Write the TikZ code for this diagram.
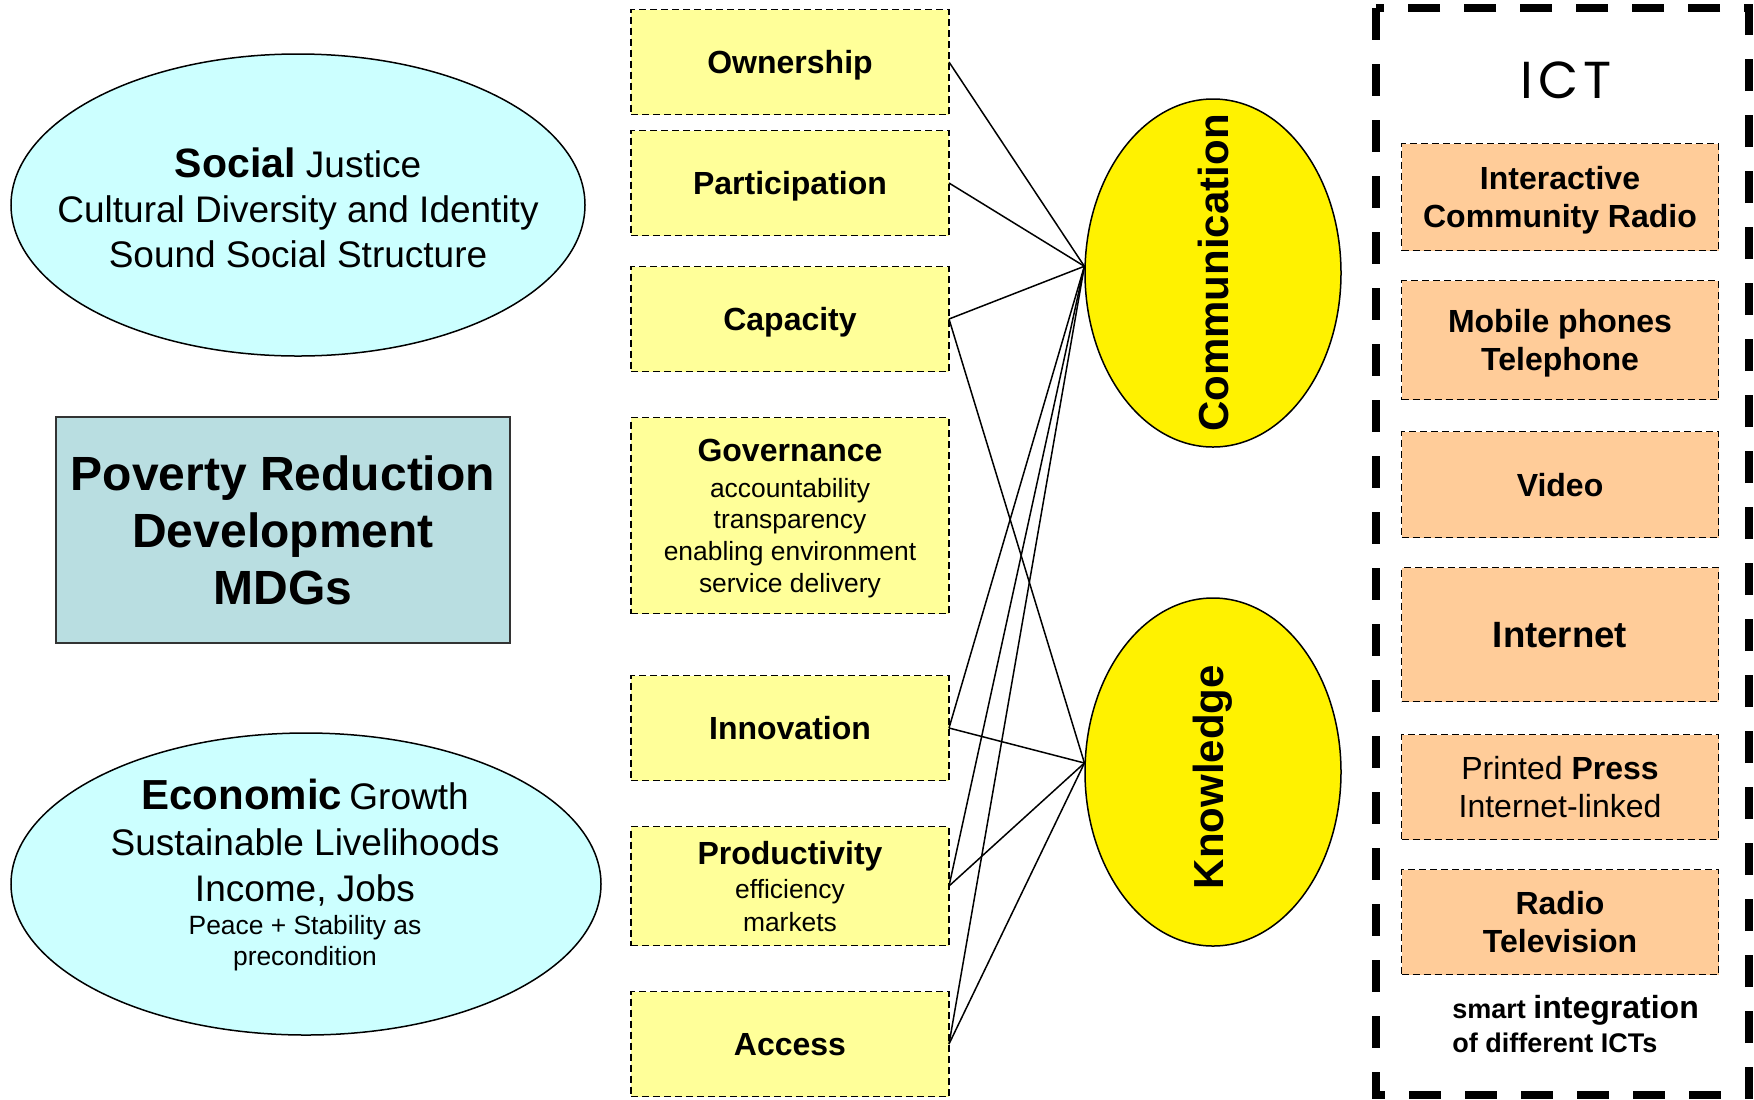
\documentclass[tikz,border=0pt]{standalone}
\usepackage{fontspec}
\setmainfont{Liberation Sans}
\newfontfamily\ictfont{Poppins}[LetterSpace=9]
\usepackage{tikz}
\usetikzlibrary{positioning, shapes.geometric}

\definecolor{goalcyan}{RGB}{204,255,255}
\definecolor{povertyteal}{RGB}{185,222,225}
\definecolor{factoryellow}{RGB}{255,255,153}
\definecolor{mediaorange}{RGB}{255,204,153}

\begin{document}
\begin{tikzpicture}[
        x=0.5pt, y=-0.5pt,
        factor/.style={draw, dash pattern=on 3.5pt off 2pt, line width=0.75pt, fill=factoryellow,
            minimum width=159pt, minimum height=52.5pt, inner sep=0pt, outer sep=0pt, align=center,
            text depth=0pt, font=\fontsize{16}{19}\selectfont\bfseries},
        media/.style={factor, fill=mediaorange, minimum width=158.5pt},
        goal/.style={draw, ellipse, line width=0.75pt, fill=goalcyan, minimum height=151pt},
        goaltext/.style={align=center, inner sep=0pt, font=\fontsize{18.5}{22.5}\selectfont},
        hub/.style={draw, ellipse, line width=0.75pt, fill=yellow, minimum width=128pt, minimum height=174pt},
        hublabel/.style={rotate=90, inner sep=0pt, font=\fontsize{21}{25}\selectfont\bfseries},
        link/.style={line width=0.75pt}
        ]
        \useasboundingbox (0,0) rectangle (1754,1099);

        % Goals on the left
        \node[goal, minimum width=287pt] (social) at (298,205) {};
        \node[goaltext] (socialtext) at (298,208)
            {{\fontsize{20.5}{22.5}\selectfont\bfseries Social} Justice\\ Cultural Diversity and Identity\\ Sound Social Structure};
        \node[draw=black!80, line width=0.75pt, fill=povertyteal, minimum width=227pt, minimum height=113pt,
            align=center, font=\fontsize{24}{28.5}\selectfont\bfseries] (poverty) at (283,530)
            {Poverty Reduction\\ Development\\ MDGs};
        \node[goal, minimum width=295pt] (economic) at (306,884) {};
        \node[goaltext, font=\fontsize{13.2}{15.5}\selectfont] (economictext) at (305,875)
            {{\fontsize{21}{23}\selectfont\bfseries Economic} {\fontsize{18.5}{23}\selectfont Growth}\\[7.5pt]
             {\fontsize{18.5}{23}\selectfont Sustainable Livelihoods}\\[7.5pt]
             {\fontsize{18.5}{23}\selectfont Income, Jobs}\\[1.3pt]
             Peace + Stability as\\ precondition};

        % Factors
        \node[factor] (own) at (790,62) {Ownership};
        \node[factor] (part) [below=8pt of own] {Participation};
        \node[factor] (cap) [below=15.5pt of part] {Capacity};
        \node[factor, minimum height=98pt, font=\fontsize{13.2}{15.85}\selectfont] (gov) [below=23pt of cap]
            {{\fontsize{16}{19}\selectfont\bfseries Governance}\\[2.2pt] accountability\\ transparency\\ enabling environment\\ service delivery};
        \node[factor] (inno) [below=31pt of gov] {Innovation};
        \node[factor, minimum height=59.5pt, font=\fontsize{13.2}{16.5}\selectfont] (prod) [below=23pt of inno]
            {{\fontsize{16}{19}\selectfont\bfseries Productivity}\\[0.5pt] efficiency\\ markets};
        \node[factor] (acc) [below=23pt of prod] {Access};

        % Communication and knowledge
        \node[hub] (comm) at (1213,273) {};
        \node[hublabel] (commlabel) at (comm) {Communication};
        \node[hub] (know) at (1213,772) {};
        \node[hublabel] (knowlabel) at (1213,777) {Knowledge};

        % Links
        \draw[link] (own.east) -- (comm.177);
        \draw[link] (part.east) -- (comm.177);
        \draw[link] (cap.east) -- (comm.177);
        \draw[link] (inno.east) -- (comm.177);
        \draw[link] (prod.east) -- (comm.177);
        \draw[link] (acc.east) -- (comm.177);
        \draw[link] (cap.east) -- (know.176);
        \draw[link] (inno.east) -- (know.176);
        \draw[link] (prod.east) -- (know.176);
        \draw[link] (acc.east) -- (know.176);

        % ICT column
        \draw[line width=4pt, dash pattern=on 16pt off 12pt] (1376,8) rectangle (1749,1095);
        \node[font=\ictfont\fontsize{26}{28}\selectfont] (icttitle) at (1566,80) {ICT};
        \node[media, minimum height=53.5pt] (radio) at (1560,197) {Interactive\\ Community Radio};
        \node[media, minimum height=59.5pt] (mobile) [below=15pt of radio] {Mobile phones\\ Telephone};
        \node[media, minimum height=53pt] (video) [below=16pt of mobile] {Video};
        \node[media, minimum height=67pt, font=\fontsize{18.3}{22}\selectfont\bfseries] (internet) [below=15pt of video] {Internet};
        \node[media] (press) [below=16.5pt of internet] {{\mdseries Printed} Press\\ {\mdseries Internet-linked}};
        \node[media] (tv) [below=15pt of press] {Radio\\ Television};
        \node[anchor=west, inner sep=0pt, align=left, font=\fontsize{13.5}{17}\selectfont\bfseries] (smart) at (1452,1024)
            {smart {\fontsize{16}{17}\selectfont integration}\\ of different ICTs};
    \end{tikzpicture}
\end{document}
